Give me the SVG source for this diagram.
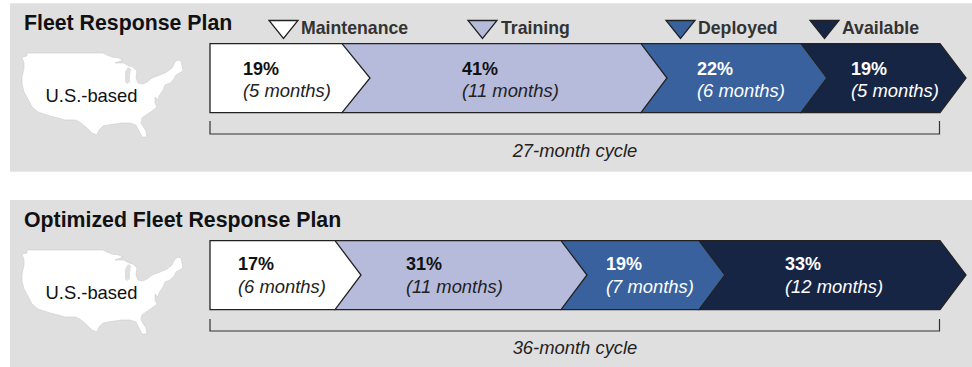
<svg xmlns="http://www.w3.org/2000/svg" width="972" height="367" viewBox="0 0 972 367">
<style>
text{font-family:"Liberation Sans",Arial,sans-serif;fill:#111}
.title{font-size:21.300px;font-weight:bold}
.leg{font-size:17.700px;font-weight:bold;fill:#333}
.pct{font-size:18px;font-weight:bold}
.dur{font-size:18.400px;font-style:italic;fill:#222}
.w{fill:#fff}
.map{fill:#fff;stroke:#ccc;stroke-width:.6}
.lab{font-size:18.400px}
.cyc{font-size:18.400px;font-style:italic;fill:#222;text-anchor:middle}
.s{stroke:#222;stroke-width:1.3;stroke-linejoin:miter}
.br{fill:none;stroke:#333;stroke-width:1.2}
.c0{fill:#fff}.c1{fill:#b7bbdb}.c2{fill:#38619e}.c3{fill:#172545}
</style>
<defs>
<path id="us" d="M22 57L27 56L27 53L103 53L107 55L112 57L119 58L123 60L115 63L124 63L129 66L133 67L137 71L136 78L138 83L143 84L147 82L152 78L160 75L167 72L172 68L175 62L178 60L181 61L183 71L176 75L174 79L170 83L165 85L163 90L159 96L158 100L155 97L155 103L157 107L152 111L146 115L142 118L141 123L146 131L147 137L142 137L139 131L136 125L130 123L122 123L115 124L108 125L103 126L99 130L97 135L92 133L87 128L81 123L76 120L70 120L65 120L58 118L50 116L38 112L32 107L28 99L24 92L22 84L22 77L24 68L24 63Z"/>
<path id="lk" d="M125 82L125 72L128 67L131 69L130 76L130 82L127 84Z"/>
<path id="tri" d="M0 0H29L14.500 18Z"/>
</defs>
<rect x="10" y="3.300" width="962" height="168.400" fill="#dfdfdf"/>
<rect x="10" y="200" width="962" height="167" fill="#dfdfdf"/>
<g id="legend">
<use href="#tri" x="269" y="20.500" class="c0 s"/><text class="leg" x="301" y="34">Maintenance</text>
<use href="#tri" x="468" y="20.500" class="c1 s"/><text class="leg" x="501" y="34">Training</text>
<use href="#tri" x="666" y="20.500" class="c2 s"/><text class="leg" x="698" y="34">Deployed</text>
<use href="#tri" x="810" y="20.500" class="c3 s"/><text class="leg" x="842" y="34">Available</text>
</g>
<g id="plan-1">
<text class="title" x="24" y="30">Fleet Response Plan</text>
<g id="map-1"><use href="#us" class="map"/><use href="#lk" fill="#dfdfdf"/><text class="lab" x="45.500" y="102">U.S.-based</text></g>
<g id="bar-1">
<path class="c3 s" d="M801 43.700H940L966 78L940 112.600H801Z"/>
<path class="c2 s" d="M641 43.700H801L827 78L801 112.600H641Z"/>
<path class="c1 s" d="M342 43.700H641L667 78L641 112.600H342Z"/>
<path class="c0 s" d="M210 43.700H342L370 78L342 112.600H210Z"/>
</g>
<text class="pct" x="243" y="75">19%</text><text class="dur" x="243" y="96.500">(5 months)</text>
<text class="pct" x="462" y="75">41%</text><text class="dur" x="462" y="96.500">(11 months)</text>
<text class="pct w" x="697" y="75">22%</text><text class="dur w" x="697" y="96.500">(6 months)</text>
<text class="pct w" x="851" y="75">19%</text><text class="dur w" x="851" y="96.500">(5 months)</text>
<path class="br" d="M210 121V134H939.500V121"/>
<text class="cyc" x="575" y="157">27-month cycle</text>
</g>
<g id="plan-2">
<text class="title" x="24" y="227">Optimized Fleet Response Plan</text>
<g id="map-2"><use href="#us" y="197" class="map"/><use href="#lk" y="197" fill="#dfdfdf"/><text class="lab" x="45.500" y="299">U.S.-based</text></g>
<g id="bar-2">
<path class="c3 s" d="M699 240.700H940L966 275L940 309.700H699Z"/>
<path class="c2 s" d="M561 240.700H699L725 275L699 309.700H561Z"/>
<path class="c1 s" d="M335 240.700H561L587 275L561 309.700H335Z"/>
<path class="c0 s" d="M210 240.700H335L361 275L335 309.700H210Z"/>
</g>
<text class="pct" x="238" y="270">17%</text><text class="dur" x="238" y="292.500">(6 months)</text>
<text class="pct" x="406" y="270">31%</text><text class="dur" x="406" y="292.500">(11 months)</text>
<text class="pct w" x="606" y="270">19%</text><text class="dur w" x="606" y="292.500">(7 months)</text>
<text class="pct w" x="785" y="270">33%</text><text class="dur w" x="785" y="292.500">(12 months)</text>
<path class="br" d="M210 319V331H939.500V319"/>
<text class="cyc" x="575" y="354">36-month cycle</text>
</g>
</svg>
